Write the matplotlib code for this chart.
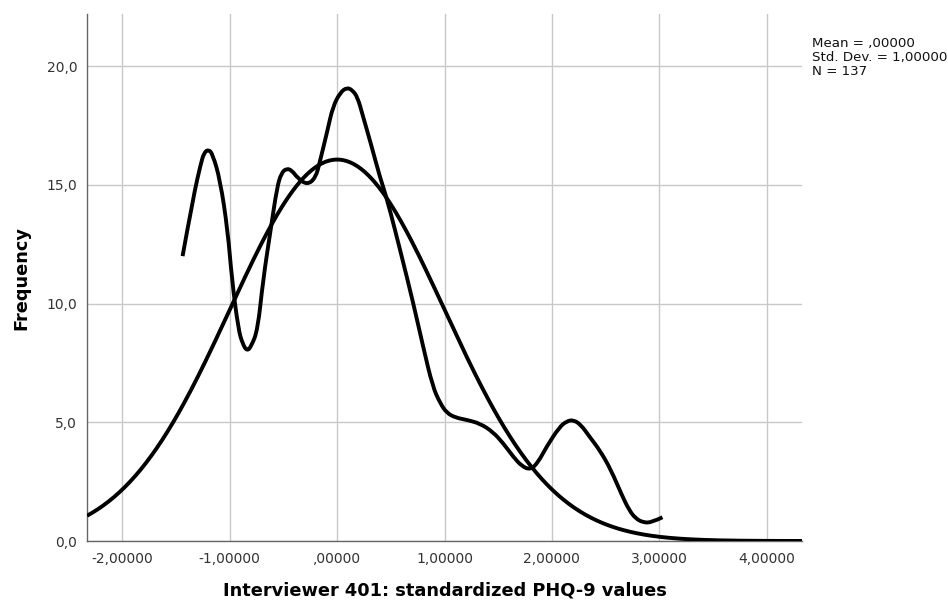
import numpy as np
import matplotlib
matplotlib.use("Agg")
import matplotlib.pyplot as plt
from matplotlib.path import Path
from matplotlib.patches import PathPatch

# summary stats shown on the chart
mean = 0.0
std_dev = 1.0
n_obs = 137
bin_width = 0.294

# smoothed frequency line
line_x = [-1.44, -1.34, -1.27, -1.24, -1.20, -1.16, -1.09, -1.02, -0.98, -0.92,
          -0.88, -0.84, -0.80, -0.74, -0.69, -0.62, -0.56, -0.52, -0.47, -0.42,
          -0.37, -0.28, -0.20, -0.16, -0.09, -0.04, 0.03, 0.09, 0.14, 0.19,
          0.24, 0.31, 0.40, 0.465, 0.59, 0.71, 0.80, 0.89, 0.96, 1.02,
          1.10, 1.21, 1.33, 1.45, 1.55, 1.64, 1.72, 1.80, 1.87, 1.95,
          2.07, 2.14, 2.20, 2.27, 2.35, 2.45, 2.55, 2.65, 2.72, 2.78,
          2.85, 2.93, 3.03]
line_y = [12.0, 14.5, 15.9, 16.35, 16.5, 16.3, 15.2, 13.1, 11.0, 8.9,
          8.3, 8.0, 8.2, 8.9, 11.0, 13.1, 14.9, 15.5, 15.7, 15.6,
          15.3, 15.0, 15.3, 16.0, 17.3, 18.3, 18.9, 19.1, 19.0, 18.7,
          17.9, 16.8, 15.3, 14.4, 12.2, 10.0, 8.2, 6.5, 5.8, 5.4,
          5.2, 5.1, 4.95, 4.6, 4.1, 3.55, 3.15, 3.0, 3.3, 3.97,
          4.8, 5.05, 5.1, 4.9, 4.4, 3.8, 3.0, 1.95, 1.3, 0.95,
          0.78, 0.78, 1.0]

x_ticks = [-2, -1, 0, 1, 2, 3, 4]
x_tick_labels = ["-2,00000", "-1,00000", ",00000", "1,00000", "2,00000", "3,00000", "4,00000"]
y_ticks = [0, 5, 10, 15, 20]
y_tick_labels = ["0,0", "5,0", "10,0", "15,0", "20,0"]

x_min, x_max = -2.33, 4.33

fig = plt.figure(figsize=(9.48, 6.03), dpi=100)
ax = fig.add_axes([0.0918, 0.1028, 0.7542, 0.874])

# normal curve from the stats
nx = np.linspace(x_min, x_max, 400)
ny = n_obs * bin_width * np.exp(-0.5 * ((nx - mean) / std_dev) ** 2) / (std_dev * np.sqrt(2 * np.pi))
ax.plot(nx, ny, color="black", lw=2.8, solid_capstyle="butt", zorder=3)

# smooth line: read points used as quadratic bezier controls
pts = list(zip(line_x, line_y))
verts = [pts[0]]
codes = [Path.MOVETO]
for i in range(1, len(pts) - 1):
    mx = (pts[i][0] + pts[i + 1][0]) / 2
    my = (pts[i][1] + pts[i + 1][1]) / 2
    if i == len(pts) - 2:
        mx, my = pts[-1]
    verts += [pts[i], (mx, my)]
    codes += [Path.CURVE3, Path.CURVE3]
ax.add_patch(PathPatch(Path(verts, codes), facecolor="none", edgecolor="black",
                       lw=2.8, capstyle="butt", joinstyle="round", zorder=3))

ax.set_xlim(x_min, x_max)
ax.set_ylim(0, 22.2)
ax.set_xticks(x_ticks)
ax.set_xticklabels(x_tick_labels)
ax.set_yticks(y_ticks)
ax.set_yticklabels(y_tick_labels)
ax.tick_params(axis="both", length=0, labelsize=10, labelcolor="#333333")
ax.tick_params(axis="x", pad=8)
ax.tick_params(axis="y", pad=7)

ax.grid(True, color="#c8c8c8", lw=1.0)
ax.set_axisbelow(True)
for s in ["top", "right"]:
    ax.spines[s].set_visible(False)
for s in ["left", "bottom"]:
    ax.spines[s].set_color("#666666")
    ax.spines[s].set_linewidth(1.0)

ax.set_xlabel("Interviewer 401: standardized PHQ-9 values", fontsize=12.8,
              fontweight="bold", labelpad=11)
ax.set_ylabel("Frequency", fontsize=12.8, fontweight="bold", labelpad=12)

fig.text(812 / 948, 1 - 37 / 603,
         "Mean = ,00000\nStd. Dev. = 1,00000\nN = %d" % n_obs,
         fontsize=9.6, va="top", ha="left", linespacing=1.08, color="#111111")

fig.savefig("out.png", dpi=100)
